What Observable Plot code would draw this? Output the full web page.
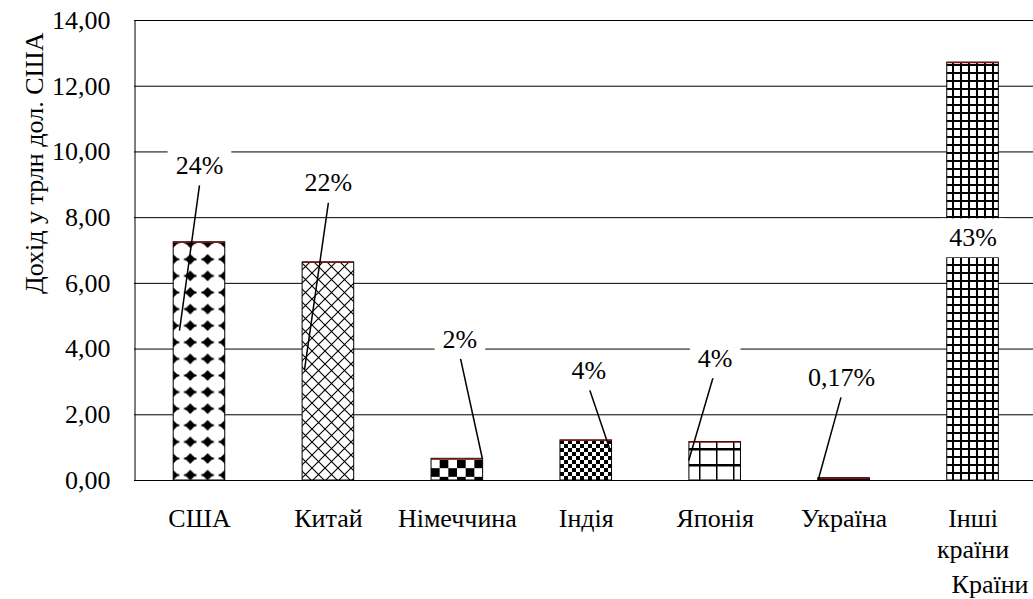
<!DOCTYPE html>
<html><head><meta charset="utf-8">
<script src="https://cdn.jsdelivr.net/npm/d3@7"></script>
<script src="https://cdn.jsdelivr.net/npm/@observablehq/plot@0.6"></script>
<style>
body{margin:0;background:#fff}
svg{display:block}
svg text{font-family:"Liberation Serif","Times New Roman",serif !important;}
</style>
</head><body><div id="chart"></div>
<script>
// ---- data ----
const categories = ["США", "Китай", "Німеччина", "Індія", "Японія", "Україна", "Інші\nкраїни"];
const values = [7.25, 6.64, 0.66, 1.22, 1.17, 0.07, 12.72];
const shares = ["24%", "22%", "2%", "4%", "4%", "0,17%", "43%"];
const fills = ["url(#p-usa)", "url(#p-china)", "url(#p-germany)", "url(#p-india)", "url(#p-japan)", "#222", "url(#p-other)"];
// label anchor positions (category index units, value units)
const labelX = [0, 1, 2.02, 3.02, 4.0, 4.98, 6.0];
const labelY = [9.59, 9.05, 4.29, 3.33, 3.70, 3.12, 7.38];
// leader lines: from under label to bar
const leaderX1 = [0, 1, 2.023, 3.023, 4.004, 4.98];
const leaderY1 = [8.98, 8.46, 3.74, 2.80, 3.41, 2.59];
const leaderX2 = [-0.155, 0.814, 2.194, 3.186, 3.795, 4.80];
const leaderY2 = [4.56, 3.35, 0.67, 0.91, 0.61, 0.03];
const yTicks = [0, 2, 4, 6, 8, 10, 12, 14];
const yLabel = "Дохід у трлн дол. США";
const xLabel = "Країни";

const bars = categories.map((c, i) => ({i, c, value: values[i], fill: fills[i], share: shares[i], lx: labelX[i], ly: labelY[i]}));
const leaders = leaderX1.map((x1, i) => ({x1, y1: leaderY1[i], x2: leaderX2[i], y2: leaderY2[i]}));
const HW = 0.2;
const font = "Liberation Serif";

const plot = Plot.plot({
  width: 1033, height: 599,
  marginLeft: 134, marginRight: 0, marginTop: 20, marginBottom: 119,
  style: {fontFamily: font, fontSize: "26px", color: "#000", background: "#fff"},
  x: {domain: [-0.504, 6.469], axis: null, label: null},
  y: {domain: [0, 14], axis: null, label: null},
  color: {type: "identity"},
  marks: [
    Plot.gridY(yTicks, {stroke: "#000", strokeOpacity: 1, strokeWidth: 1}),
    Plot.ruleX([-0.5], {y1: 0, y2: 14, stroke: "#000", strokeWidth: 1}),
    Plot.rect(bars, {x1: d => d.i - HW, x2: d => d.i + HW, y1: 0, y2: "value", fill: "fill", stroke: "#000", strokeWidth: 1}),
    Plot.ruleY(bars, {y: "value", x1: d => d.i - HW, x2: d => d.i + HW, stroke: "#8b1010", strokeWidth: 1.2}),
    Plot.link(leaders, {x1: "x1", y1: "y1", x2: "x2", y2: "y2", stroke: "#000", strokeWidth: 1.5}),
    Plot.text(bars, {x: "lx", y: "ly", text: "share", fill: "#000", fontSize: 26, fontFamily: font, className: "lbl"}),
    Plot.axisY(yTicks, {anchor: "left", tickSize: 0, tickPadding: 24, fontSize: 26, fontFamily: font, tickFormat: d => d.toFixed(2).replace(".", ","), label: null}),
    Plot.axisX(d3.range(categories.length), {anchor: "bottom", tickSize: 0, tickPadding: 24, fontSize: 26, fontFamily: font, lineHeight: 1.2, tickFormat: i => categories[i], label: null}),
    Plot.text([yLabel], {text: d => d, frameAnchor: "top-left", rotate: -90, textAnchor: "end", dx: -110, dy: 12, fontSize: 26, fontFamily: font, fill: "#000"}),
    Plot.text([xLabel], {text: d => d, frameAnchor: "bottom-right", textAnchor: "end", lineAnchor: "top", dx: -5, dy: 94, fontSize: 26, fontFamily: font, fill: "#000"})
  ]
});

const defs = `
<pattern id="p-usa" patternUnits="userSpaceOnUse" x="8.65" y="2" width="17.3" height="16.6">
  <rect width="17.3" height="16.6" fill="#fff"/>
  <path d="M8.65,3 L14,8.3 L8.65,13.6 L3.3,8.3Z" fill="#000"/>
  <rect x="2.4" y="7.3" width="12.5" height="2" fill="#000"/>
</pattern>
<pattern id="p-china" patternUnits="userSpaceOnUse" width="13" height="13">
  <rect width="13" height="13" fill="#fff"/>
  <path d="M-1,-1L14,14M14,-1L-1,14" stroke="#000" stroke-width="1.1"/>
</pattern>
<pattern id="p-germany" patternUnits="userSpaceOnUse" x="431" y="0" width="17.34" height="17.34">
  <rect width="17.34" height="17.34" fill="#fff"/>
  <rect width="8.67" height="8.67" fill="#000"/>
  <rect x="8.67" y="8.67" width="8.67" height="8.67" fill="#000"/>
</pattern>
<pattern id="p-india" patternUnits="userSpaceOnUse" width="8" height="8">
  <rect width="8" height="8" fill="#fff"/>
  <rect width="4" height="4" fill="#000"/>
  <rect x="4" y="4" width="4" height="4" fill="#000"/>
</pattern>
<pattern id="p-japan" patternUnits="userSpaceOnUse" x="699" y="0" width="17" height="16">
  <rect width="17" height="16" fill="#fff"/>
  <rect x="0" y="0" width="1.5" height="16" fill="#000"/>
  <rect x="0" y="0" width="17" height="2.5" fill="#000"/>
</pattern>
<pattern id="p-other" patternUnits="userSpaceOnUse" width="8" height="8">
  <rect width="8" height="8" fill="#fff"/>
  <rect x="0" y="0" width="2" height="8" fill="#000"/>
  <rect x="0" y="0" width="8" height="2" fill="#000"/>
</pattern>`;
d3.select(plot).insert("defs", ":first-child").html(defs);

document.getElementById("chart").appendChild(plot);

// white boxes behind percentage labels
const lg = d3.select(plot).select("g.lbl");
if (!lg.empty()) {
  const box = d3.select(lg.node().parentNode).insert("g", () => lg.node()).attr("fill", "#fff");
  if (lg.attr("transform")) box.attr("transform", lg.attr("transform"));
  lg.selectAll("text").each(function() {
    const b = this.getBBox();
    const r = box.append("rect").attr("x", b.x - 8).attr("y", b.y - 5).attr("width", b.width + 16).attr("height", b.height + 10);
    const t = this.getAttribute("transform");
    if (t) r.attr("transform", t);
  });
}
</script>
</body></html>
